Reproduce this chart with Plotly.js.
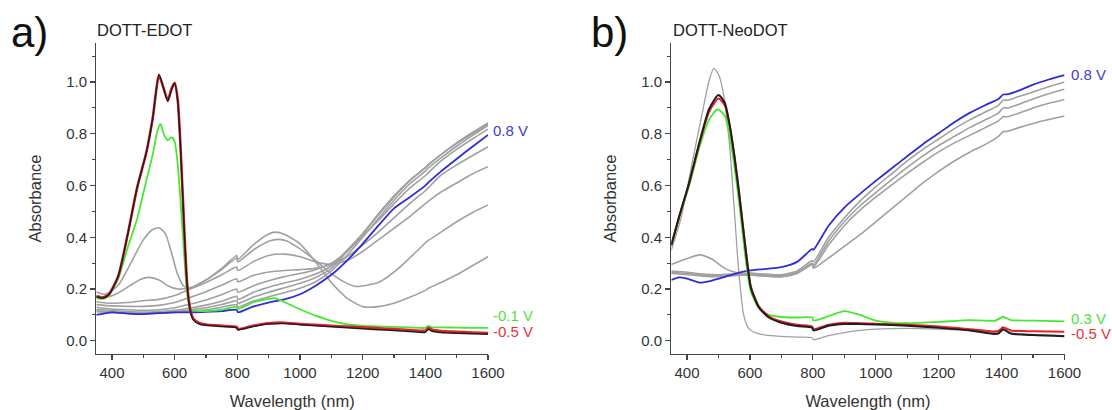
<!DOCTYPE html>
<html>
<head>
<meta charset="utf-8">
<script src="https://cdn.plot.ly/plotly-3.0.1.min.js"></script>
<style>html,body{margin:0;padding:0;background:#fff;}#chart{width:1112px;height:410px;}</style>
</head>
<body>
<div id="chart"></div>
<script>
// ---------- Panel a) DOTT-EDOT ----------
const A_WL_RED = [350,370,390,420,450,480,510,530,550,565,578,590,600,610,620,630,640,650,660,680,700,750,798,802,850,900,950,1000,1050,1100,1150,1200,1250,1300,1350,1400,1410,1420,1450,1500,1550,1600];
const A_RED   = [0.172,0.167,0.18,0.25,0.41,0.59,0.73,0.86,1.025,0.975,0.93,0.975,0.997,0.93,0.72,0.45,0.22,0.12,0.085,0.068,0.063,0.058,0.054,0.045,0.058,0.068,0.07,0.065,0.062,0.058,0.055,0.052,0.048,0.045,0.042,0.039,0.05,0.044,0.038,0.035,0.032,0.03];
const A_BLACK = [0.17,0.165,0.178,0.25,0.41,0.59,0.73,0.86,1.03,0.975,0.925,0.97,0.995,0.925,0.715,0.445,0.215,0.115,0.08,0.064,0.06,0.055,0.05,0.042,0.055,0.065,0.067,0.062,0.058,0.054,0.05,0.047,0.043,0.04,0.036,0.033,0.045,0.038,0.032,0.029,0.027,0.025];

const A_WL_GREEN = [350,370,390,420,450,480,495,510,530,545,555,565,578,590,600,610,620,630,640,650,660,680,700,750,798,802,850,900,920,950,1000,1050,1100,1150,1200,1250,1300,1350,1400,1410,1420,1450,1500,1550,1600];
const A_GREEN = [0.165,0.162,0.175,0.24,0.36,0.47,0.545,0.62,0.72,0.81,0.838,0.8,0.775,0.787,0.77,0.68,0.52,0.34,0.18,0.125,0.118,0.115,0.115,0.12,0.132,0.122,0.148,0.162,0.165,0.15,0.122,0.097,0.077,0.064,0.058,0.056,0.054,0.052,0.05,0.058,0.053,0.052,0.051,0.05,0.05];

const A_WL_GRID = [350,400,450,500,550,600,650,700,750,798,802,850,900,950,1000,1050,1100,1150,1200,1250,1300,1350,1400,1410,1450,1500,1550,1600];
const A_BLUE = [0.10,0.11,0.105,0.103,0.107,0.11,0.11,0.112,0.115,0.12,0.11,0.132,0.148,0.16,0.18,0.213,0.255,0.31,0.375,0.445,0.512,0.555,0.6,0.612,0.655,0.703,0.75,0.796];
const A_GRAY2 = [0.15,0.145,0.148,0.155,0.16,0.175,0.2,0.225,0.255,0.285,0.272,0.305,0.33,0.335,0.325,0.305,0.295,0.31,0.345,0.39,0.435,0.48,0.53,0.54,0.575,0.61,0.645,0.673];
const A_GRAY3 = [0.14,0.135,0.133,0.133,0.137,0.148,0.168,0.19,0.215,0.24,0.228,0.252,0.266,0.272,0.275,0.28,0.295,0.325,0.37,0.42,0.475,0.53,0.58,0.592,0.64,0.68,0.715,0.75];
const A_GRAY4 = [0.13,0.123,0.12,0.118,0.12,0.128,0.142,0.158,0.178,0.2,0.188,0.212,0.232,0.248,0.26,0.275,0.3,0.345,0.405,0.465,0.53,0.59,0.638,0.65,0.695,0.74,0.78,0.818];
const A_GRAY5 = [0.122,0.117,0.113,0.111,0.113,0.118,0.127,0.138,0.153,0.172,0.16,0.187,0.207,0.223,0.238,0.258,0.29,0.35,0.415,0.49,0.56,0.62,0.67,0.682,0.72,0.762,0.8,0.838];
const A_GRAY6 = [0.116,0.112,0.109,0.107,0.109,0.113,0.12,0.128,0.14,0.155,0.145,0.168,0.188,0.205,0.222,0.245,0.28,0.345,0.412,0.485,0.555,0.618,0.668,0.68,0.72,0.765,0.805,0.842];
const A_GRAY7 = [0.112,0.11,0.107,0.105,0.107,0.11,0.115,0.12,0.13,0.14,0.13,0.153,0.17,0.186,0.203,0.228,0.27,0.33,0.4,0.472,0.543,0.606,0.656,0.668,0.707,0.752,0.793,0.832];

const A_WL_GRAY0 = [350,380,420,460,500,530,550,570,590,610,630,650,700,750,798,802,850,900,920,950,1000,1050,1100,1150,1200,1250,1300,1350,1400,1410,1450,1500,1550,1600];
const A_GRAY0 = [0.19,0.18,0.215,0.3,0.39,0.43,0.437,0.415,0.34,0.255,0.21,0.205,0.235,0.28,0.33,0.315,0.37,0.413,0.42,0.412,0.375,0.305,0.225,0.165,0.132,0.132,0.145,0.168,0.195,0.203,0.225,0.255,0.29,0.325];
const A_WL_GRAY1 = [350,380,420,460,490,520,550,580,610,650,700,750,798,802,850,900,930,960,1000,1050,1100,1150,1180,1250,1300,1350,1400,1410,1450,1500,1550,1600];
const A_GRAY1 = [0.175,0.168,0.185,0.215,0.237,0.245,0.235,0.212,0.2,0.205,0.235,0.275,0.32,0.305,0.35,0.385,0.392,0.385,0.355,0.31,0.26,0.222,0.21,0.225,0.265,0.32,0.378,0.388,0.42,0.46,0.495,0.525];

// ---------- Panel b) DOTT-NeoDOT ----------
const B_WL_RED = [350,375,407,440,470,500,520,534,550,566,587,603,629,660,700,750,798,802,850,900,950,1000,1100,1200,1300,1370,1390,1405,1430,1500,1600];
const B_RED   = [0.37,0.48,0.61,0.765,0.885,0.937,0.91,0.84,0.72,0.57,0.35,0.21,0.132,0.095,0.075,0.062,0.055,0.045,0.062,0.07,0.068,0.066,0.062,0.055,0.045,0.036,0.038,0.052,0.04,0.037,0.035];
const B_BLACK = [0.37,0.48,0.612,0.77,0.895,0.95,0.92,0.845,0.72,0.565,0.345,0.205,0.128,0.09,0.07,0.057,0.05,0.04,0.058,0.065,0.065,0.063,0.058,0.05,0.04,0.027,0.028,0.045,0.028,0.022,0.018];

const B_WL_GREEN = [350,375,407,440,470,497,520,534,550,566,587,603,629,660,700,750,798,802,850,900,950,1000,1050,1100,1200,1300,1380,1405,1430,1500,1600];
const B_GREEN = [0.365,0.475,0.6,0.75,0.855,0.895,0.87,0.8,0.68,0.53,0.31,0.19,0.125,0.1,0.092,0.09,0.09,0.078,0.095,0.115,0.1,0.078,0.07,0.068,0.073,0.08,0.078,0.093,0.08,0.078,0.075];

const B_WL_BLUE = [350,375,400,440,470,500,550,600,650,700,750,798,802,850,900,950,1000,1050,1100,1150,1200,1250,1300,1350,1390,1405,1420,1450,1500,1550,1600];
const B_BLUE = [0.235,0.245,0.24,0.225,0.23,0.24,0.258,0.272,0.278,0.285,0.305,0.355,0.352,0.445,0.515,0.568,0.618,0.666,0.713,0.76,0.802,0.845,0.882,0.912,0.935,0.952,0.953,0.965,0.99,1.01,1.027];

const B_WL_GRID = [350,400,450,500,550,600,650,700,750,798,802,850,900,950,1000,1050,1100,1150,1200,1250,1300,1350,1390,1405,1420,1450,1500,1550,1600];
const B_GRAY1 = [0.27,0.265,0.258,0.255,0.258,0.262,0.258,0.255,0.27,0.31,0.305,0.4,0.475,0.54,0.595,0.645,0.695,0.74,0.78,0.82,0.855,0.885,0.91,0.93,0.93,0.942,0.962,0.982,1.0];
const B_GRAY2 = [0.265,0.26,0.254,0.252,0.255,0.258,0.254,0.252,0.265,0.3,0.292,0.385,0.46,0.522,0.573,0.622,0.67,0.715,0.755,0.79,0.825,0.855,0.88,0.9,0.9,0.912,0.935,0.955,0.972];
const B_GRAY3 = [0.26,0.256,0.25,0.248,0.252,0.255,0.25,0.248,0.26,0.295,0.285,0.37,0.445,0.505,0.555,0.602,0.647,0.69,0.73,0.765,0.795,0.825,0.85,0.866,0.866,0.878,0.9,0.918,0.933];
const B_WL_GRAY4 = [350,400,440,480,520,560,600,650,700,750,798,802,850,900,950,1000,1050,1100,1150,1200,1250,1300,1350,1390,1405,1420,1450,1500,1550,1600];
const B_GRAY4 = [0.295,0.318,0.332,0.315,0.28,0.262,0.255,0.25,0.248,0.262,0.295,0.28,0.32,0.365,0.41,0.46,0.51,0.56,0.61,0.655,0.695,0.73,0.76,0.79,0.808,0.81,0.822,0.84,0.855,0.869];
const B_WL_THIN = [350,380,420,450,470,485,500,515,535,550,565,580,595,610,650,700,750,798,802,850,900,950,1000,1100,1200,1300,1390,1405,1430,1500,1600];
const B_THIN = [0.35,0.47,0.71,0.89,1.005,1.053,1.03,0.96,0.76,0.51,0.26,0.1,0.05,0.035,0.022,0.017,0.014,0.012,0.004,0.02,0.032,0.04,0.045,0.048,0.045,0.04,0.033,0.04,0.03,0.025,0.02];

// ---------- Text ----------
const PANEL_LABELS = ['a)', 'b)'];
const PANEL_TITLES = ['DOTT-EDOT', 'DOTT-NeoDOT'];
const A_LABELS = ['0.8 V', '-0.1 V', '-0.5 V'];
const A_LABEL_Y = [0.814, 0.099, 0.034];
const B_LABELS = ['0.8 V', '0.3 V', '-0.5 V'];
const B_LABEL_Y = [1.031, 0.088, 0.03];
const X_TITLE = 'Wavelength (nm)';
const Y_TITLE = 'Absorbance';

// ---------- Styles ----------
const FONT = 'Liberation Sans, Arial, Helvetica, sans-serif';
const C_RED = 'rgb(232,32,44)';
const C_BLACK = 'rgb(30,30,30)';
const C_GREEN = 'rgb(70,232,50)';
const C_BLUE = 'rgb(45,45,215)';
const C_GRAY = 'rgb(160,160,160)';
const LBL_RED = 'rgb(232,50,60)';
const LBL_GREEN = 'rgb(80,225,60)';
const LBL_BLUE = 'rgb(60,60,215)';

function tr(x, y, color, width, ax) {
  return {x: x, y: y, type: 'scatter', mode: 'lines', xaxis: ax === 2 ? 'x2' : 'x', yaxis: ax === 2 ? 'y2' : 'y',
    line: {color: color, width: width, shape: 'spline', smoothing: 0.6}, hoverinfo: 'skip', showlegend: false};
}

const traces = [
  tr(A_WL_GRAY0, A_GRAY0, C_GRAY, 1.6, 1),
  tr(A_WL_GRAY1, A_GRAY1, C_GRAY, 1.6, 1),
  tr(A_WL_GRID, A_GRAY2, C_GRAY, 1.6, 1),
  tr(A_WL_GRID, A_GRAY3, C_GRAY, 1.6, 1),
  tr(A_WL_GRID, A_GRAY4, C_GRAY, 1.6, 1),
  tr(A_WL_GRID, A_GRAY5, C_GRAY, 1.6, 1),
  tr(A_WL_GRID, A_GRAY6, C_GRAY, 1.6, 1),
  tr(A_WL_GRID, A_GRAY7, C_GRAY, 1.6, 1),
  tr(A_WL_GRID, A_BLUE, C_BLUE, 1.8, 1),
  tr(A_WL_GREEN, A_GREEN, C_GREEN, 1.8, 1),
  tr(A_WL_RED, A_RED, C_RED, 2.6, 1),
  tr(A_WL_RED, A_BLACK, C_BLACK, 1.5, 1),

  tr(B_WL_GRID, B_GRAY1, C_GRAY, 1.6, 2),
  tr(B_WL_GRID, B_GRAY2, C_GRAY, 1.6, 2),
  tr(B_WL_GRID, B_GRAY3, C_GRAY, 1.6, 2),
  tr(B_WL_GRAY4, B_GRAY4, C_GRAY, 1.6, 2),
  tr(B_WL_THIN, B_THIN, C_GRAY, 1.3, 2),
  tr(B_WL_BLUE, B_BLUE, C_BLUE, 1.8, 2),
  tr(B_WL_GREEN, B_GREEN, C_GREEN, 1.8, 2),
  tr(B_WL_RED, B_RED, C_RED, 2.0, 2),
  tr(B_WL_RED, B_BLACK, C_BLACK, 2.0, 2)
];

function xax(domain) {
  return {domain: domain, range: [350, 1600], tick0: 400, dtick: 200, ticks: 'outside', ticklen: 5, tickwidth: 1.2,
    tickcolor: '#444', showline: true, linecolor: '#444', linewidth: 1.3, showgrid: false, zeroline: false,
    minor: {dtick: 100, ticks: 'outside', ticklen: 3, tickwidth: 1.1, tickcolor: '#444', showgrid: false},
    tickfont: {family: FONT, size: 15, color: '#333'},
    title: {text: X_TITLE, font: {family: FONT, size: 16.5, color: '#333'}, standoff: 17}, automargin: false, fixedrange: true};
}
function yax(anchor) {
  return {domain: [0.1366, 0.8951], range: [-0.051, 1.151], tick0: 0, dtick: 0.2, tickformat: '.1f', ticks: 'outside',
    ticklen: 5, tickwidth: 1.2, tickcolor: '#444', showline: true, linecolor: '#444', linewidth: 1.3, showgrid: false,
    zeroline: false, anchor: anchor,
    minor: {dtick: 0.1, ticks: 'outside', ticklen: 3, tickwidth: 1.1, tickcolor: '#444', showgrid: false},
    tickfont: {family: FONT, size: 15, color: '#333'},
    title: {text: Y_TITLE, font: {family: FONT, size: 16.5, color: '#333'}, standoff: 20}, automargin: false, fixedrange: true};
}

const annotations = [
  {text: PANEL_LABELS[0], xref: 'paper', yref: 'paper', x: 9/1112, y: 1 - 33/410, xanchor: 'left', yanchor: 'middle', showarrow: false, font: {family: FONT, size: 42, color: '#111'}},
  {text: PANEL_LABELS[1], xref: 'paper', yref: 'paper', x: 589/1112, y: 1 - 33/410, xanchor: 'left', yanchor: 'middle', showarrow: false, font: {family: FONT, size: 42, color: '#111'}},
  {text: PANEL_TITLES[0], xref: 'paper', yref: 'paper', x: 95/1112, y: 1 - 30.5/410, xanchor: 'left', yanchor: 'middle', showarrow: false, font: {family: FONT, size: 16.5, color: '#222'}},
  {text: PANEL_TITLES[1], xref: 'paper', yref: 'paper', x: 671/1112, y: 1 - 30.5/410, xanchor: 'left', yanchor: 'middle', showarrow: false, font: {family: FONT, size: 16.5, color: '#222'}}
];
const aCols = [LBL_BLUE, LBL_GREEN, LBL_RED];
for (let i = 0; i < 3; i++) {
  annotations.push({text: A_LABELS[i], xref: 'x', yref: 'y', x: 1600, y: A_LABEL_Y[i], xanchor: 'left', yanchor: 'middle', xshift: 3, showarrow: false, font: {family: FONT, size: 15, color: aCols[i]}});
  annotations.push({text: B_LABELS[i], xref: 'x2', yref: 'y2', x: 1600, y: B_LABEL_Y[i], xanchor: 'left', yanchor: 'middle', xshift: 4, showarrow: false, font: {family: FONT, size: 15, color: aCols[i]}});
}

const layout = {
  width: 1112, height: 410, margin: {l: 0, r: 0, t: 0, b: 0}, paper_bgcolor: '#fff', plot_bgcolor: '#fff',
  showlegend: false,
  xaxis: Object.assign(xax([96.3/1112, 488/1112]), {anchor: 'y'}),
  yaxis: yax('x'),
  xaxis2: Object.assign(xax([671.3/1112, 1064.5/1112]), {anchor: 'y2'}),
  yaxis2: yax('x2'),
  annotations: annotations
};

Plotly.newPlot('chart', traces, layout, {staticPlot: true, displayModeBar: false});
</script>
</body>
</html>
